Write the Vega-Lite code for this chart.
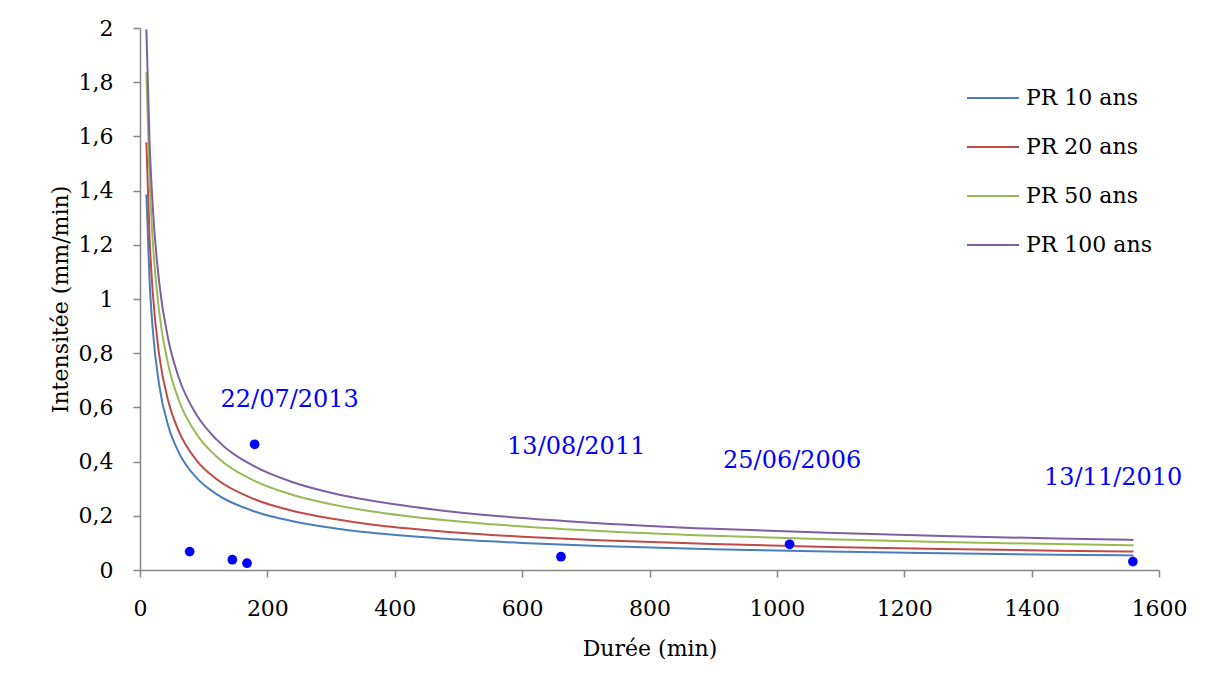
{
  "$schema": "https://vega.github.io/schema/vega-lite/v6.json",
  "autosize": "none",
  "width": 1019,
  "height": 542,
  "padding": {"left": 140, "top": 28, "right": 55, "bottom": 108},
  "background": "white",
  "config": {
    "font": "DejaVu Serif",
    "view": {"stroke": null},
    "axis": {
      "grid": false,
      "domainColor": "#868686",
      "domainWidth": 1.5,
      "tickColor": "#868686",
      "tickWidth": 1.5,
      "tickSize": 7,
      "labelFont": "DejaVu Serif",
      "labelFontSize": 22,
      "labelColor": "black",
      "titleFont": "DejaVu Serif",
      "titleFontSize": 22,
      "titleFontWeight": "normal",
      "titleColor": "black"
    },
    "legend": {
      "labelFont": "DejaVu Serif",
      "labelFontSize": 22,
      "labelColor": "black"
    }
  },
  "datasets": {
    "courbes": [
      {"duree": 10, "intensite": 1.386, "serie": "PR 10 ans"},
      {"duree": 15, "intensite": 1.068, "serie": "PR 10 ans"},
      {"duree": 20, "intensite": 0.888, "serie": "PR 10 ans"},
      {"duree": 30, "intensite": 0.684, "serie": "PR 10 ans"},
      {"duree": 45, "intensite": 0.527, "serie": "PR 10 ans"},
      {"duree": 60, "intensite": 0.438, "serie": "PR 10 ans"},
      {"duree": 90, "intensite": 0.337, "serie": "PR 10 ans"},
      {"duree": 120, "intensite": 0.280, "serie": "PR 10 ans"},
      {"duree": 180, "intensite": 0.216, "serie": "PR 10 ans"},
      {"duree": 240, "intensite": 0.180, "serie": "PR 10 ans"},
      {"duree": 300, "intensite": 0.156, "serie": "PR 10 ans"},
      {"duree": 360, "intensite": 0.138, "serie": "PR 10 ans"},
      {"duree": 480, "intensite": 0.115, "serie": "PR 10 ans"},
      {"duree": 600, "intensite": 0.0997, "serie": "PR 10 ans"},
      {"duree": 720, "intensite": 0.0886, "serie": "PR 10 ans"},
      {"duree": 900, "intensite": 0.0767, "serie": "PR 10 ans"},
      {"duree": 1080, "intensite": 0.0683, "serie": "PR 10 ans"},
      {"duree": 1260, "intensite": 0.0618, "serie": "PR 10 ans"},
      {"duree": 1440, "intensite": 0.0567, "serie": "PR 10 ans"},
      {"duree": 1560, "intensite": 0.0539, "serie": "PR 10 ans"},
      {"duree": 10, "intensite": 1.578, "serie": "PR 20 ans"},
      {"duree": 15, "intensite": 1.226, "serie": "PR 20 ans"},
      {"duree": 20, "intensite": 1.025, "serie": "PR 20 ans"},
      {"duree": 30, "intensite": 0.796, "serie": "PR 20 ans"},
      {"duree": 45, "intensite": 0.618, "serie": "PR 20 ans"},
      {"duree": 60, "intensite": 0.517, "serie": "PR 20 ans"},
      {"duree": 90, "intensite": 0.401, "serie": "PR 20 ans"},
      {"duree": 120, "intensite": 0.336, "serie": "PR 20 ans"},
      {"duree": 180, "intensite": 0.261, "serie": "PR 20 ans"},
      {"duree": 240, "intensite": 0.218, "serie": "PR 20 ans"},
      {"duree": 300, "intensite": 0.190, "serie": "PR 20 ans"},
      {"duree": 360, "intensite": 0.169, "serie": "PR 20 ans"},
      {"duree": 480, "intensite": 0.1415, "serie": "PR 20 ans"},
      {"duree": 600, "intensite": 0.1231, "serie": "PR 20 ans"},
      {"duree": 720, "intensite": 0.1099, "serie": "PR 20 ans"},
      {"duree": 900, "intensite": 0.0956, "serie": "PR 20 ans"},
      {"duree": 1080, "intensite": 0.0853, "serie": "PR 20 ans"},
      {"duree": 1260, "intensite": 0.0775, "serie": "PR 20 ans"},
      {"duree": 1440, "intensite": 0.0713, "serie": "PR 20 ans"},
      {"duree": 1560, "intensite": 0.0679, "serie": "PR 20 ans"},
      {"duree": 10, "intensite": 1.837, "serie": "PR 50 ans"},
      {"duree": 15, "intensite": 1.443, "serie": "PR 50 ans"},
      {"duree": 20, "intensite": 1.216, "serie": "PR 50 ans"},
      {"duree": 30, "intensite": 0.955, "serie": "PR 50 ans"},
      {"duree": 45, "intensite": 0.751, "serie": "PR 50 ans"},
      {"duree": 60, "intensite": 0.633, "serie": "PR 50 ans"},
      {"duree": 90, "intensite": 0.497, "serie": "PR 50 ans"},
      {"duree": 120, "intensite": 0.419, "serie": "PR 50 ans"},
      {"duree": 180, "intensite": 0.329, "serie": "PR 50 ans"},
      {"duree": 240, "intensite": 0.277, "serie": "PR 50 ans"},
      {"duree": 300, "intensite": 0.243, "serie": "PR 50 ans"},
      {"duree": 360, "intensite": 0.218, "serie": "PR 50 ans"},
      {"duree": 480, "intensite": 0.1835, "serie": "PR 50 ans"},
      {"duree": 600, "intensite": 0.1607, "serie": "PR 50 ans"},
      {"duree": 720, "intensite": 0.1442, "serie": "PR 50 ans"},
      {"duree": 900, "intensite": 0.1262, "serie": "PR 50 ans"},
      {"duree": 1080, "intensite": 0.1133, "serie": "PR 50 ans"},
      {"duree": 1260, "intensite": 0.1034, "serie": "PR 50 ans"},
      {"duree": 1440, "intensite": 0.0955, "serie": "PR 50 ans"},
      {"duree": 1560, "intensite": 0.0911, "serie": "PR 50 ans"},
      {"duree": 10, "intensite": 1.995, "serie": "PR 100 ans"},
      {"duree": 15, "intensite": 1.582, "serie": "PR 100 ans"},
      {"duree": 20, "intensite": 1.342, "serie": "PR 100 ans"},
      {"duree": 30, "intensite": 1.064, "serie": "PR 100 ans"},
      {"duree": 45, "intensite": 0.844, "serie": "PR 100 ans"},
      {"duree": 60, "intensite": 0.716, "serie": "PR 100 ans"},
      {"duree": 90, "intensite": 0.568, "serie": "PR 100 ans"},
      {"duree": 120, "intensite": 0.482, "serie": "PR 100 ans"},
      {"duree": 180, "intensite": 0.382, "serie": "PR 100 ans"},
      {"duree": 240, "intensite": 0.324, "serie": "PR 100 ans"},
      {"duree": 300, "intensite": 0.285, "serie": "PR 100 ans"},
      {"duree": 360, "intensite": 0.257, "serie": "PR 100 ans"},
      {"duree": 480, "intensite": 0.218, "serie": "PR 100 ans"},
      {"duree": 600, "intensite": 0.1917, "serie": "PR 100 ans"},
      {"duree": 720, "intensite": 0.1728, "serie": "PR 100 ans"},
      {"duree": 900, "intensite": 0.1520, "serie": "PR 100 ans"},
      {"duree": 1080, "intensite": 0.1371, "serie": "PR 100 ans"},
      {"duree": 1260, "intensite": 0.1255, "serie": "PR 100 ans"},
      {"duree": 1440, "intensite": 0.1163, "serie": "PR 100 ans"},
      {"duree": 1560, "intensite": 0.1111, "serie": "PR 100 ans"}
    ],
    "evenements": [
      {"duree": 78, "intensite": 0.068},
      {"duree": 145, "intensite": 0.038},
      {"duree": 168, "intensite": 0.025},
      {"duree": 180, "intensite": 0.464},
      {"duree": 661, "intensite": 0.049},
      {"duree": 1020, "intensite": 0.095},
      {"duree": 1559, "intensite": 0.031}
    ],
    "etiquettes": [
      {"duree": 235, "intensite": 0.627, "date": "22/07/2013"},
      {"duree": 685, "intensite": 0.454, "date": "13/08/2011"},
      {"duree": 1024, "intensite": 0.402, "date": "25/06/2006"},
      {"duree": 1528, "intensite": 0.34, "date": "13/11/2010"}
    ]
  },
  "layer": [
    {
      "data": {"name": "courbes"},
      "mark": {"type": "line", "interpolate": "monotone", "strokeWidth": 2},
      "encoding": {
        "x": {
          "field": "duree", "type": "quantitative",
          "scale": {"domain": [0, 1600], "nice": false},
          "axis": {"values": [0, 200, 400, 600, 800, 1000, 1200, 1400, 1600], "format": "d", "title": "Durée (min)", "labelPadding": 21, "titlePadding": 19, "labelFlush": false}
        },
        "y": {
          "field": "intensite", "type": "quantitative",
          "scale": {"domain": [0, 2], "nice": false},
          "axis": {"values": [0, 0.2, 0.4, 0.6, 0.8, 1, 1.2, 1.4, 1.6, 1.8, 2], "title": "Intensitée (mm/min)", "labelPadding": 20, "titlePadding": 6, "labelFlush": false, "labelExpr": "replace(format(datum.value, '~g'), '.', ',')"}
        },
        "color": {
          "field": "serie", "type": "nominal",
          "scale": {"domain": ["PR 10 ans", "PR 20 ans", "PR 50 ans", "PR 100 ans"], "range": ["#4A7EBB", "#BE4B48", "#98B954", "#7D60A0"]},
          "legend": {
            "title": null,
            "orient": "none",
            "legendX": 839,
            "legendY": 56,
            "symbolType": "M-2,0H2",
            "symbolSize": 676,
            "symbolStrokeWidth": 2,
            "rowPadding": 24,
            "labelOffset": 19,
            "padding": 0
          }
        },
        "detail": {"field": "serie"}
      }
    },
    {
      "data": {"name": "evenements"},
      "mark": {"type": "circle", "size": 95, "color": "#0000FF", "opacity": 1},
      "encoding": {
        "x": {"field": "duree", "type": "quantitative"},
        "y": {"field": "intensite", "type": "quantitative"}
      }
    },
    {
      "data": {"name": "etiquettes"},
      "mark": {"type": "text", "font": "DejaVu Serif", "fontSize": 24, "color": "#0000FF", "align": "center", "baseline": "middle"},
      "encoding": {
        "x": {"field": "duree", "type": "quantitative"},
        "y": {"field": "intensite", "type": "quantitative"},
        "text": {"field": "date"}
      }
    }
  ]
}
